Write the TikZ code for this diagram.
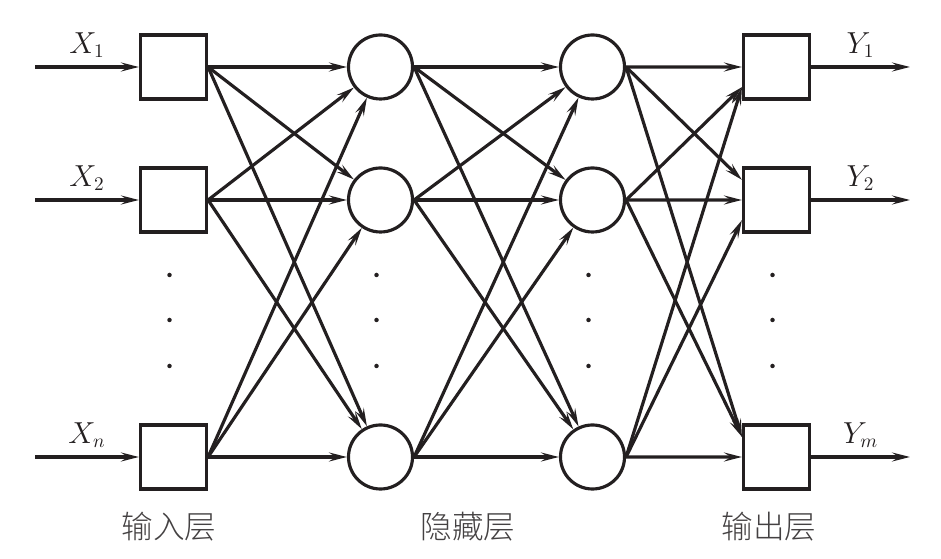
\documentclass[tikz,border=0pt]{standalone}
\usepackage{fontspec}
\newfontfamily\cjk{Noto Sans CJK SC Light}
\usetikzlibrary{arrows.meta}
\usetikzlibrary{calc}
\usetikzlibrary{positioning}
\definecolor{ink}{RGB}{35,31,32}
\tikzset{%
  a/.style = {-{Stealth[length=3.6mm,width=1.8mm,inset=1.4mm]},line width=1.8pt},
  b/.style = {rectangle,draw,line width=1.8pt,minimum width=1.32cm,
        minimum height=1.28cm,inner sep=0pt},
  c/.style = {circle,draw,line width=1.8pt,minimum size=1.28cm,inner sep=0pt},
  lab/.style = {font=\fontsize{16}{18}\selectfont},
  layer/.style = {font=\fontsize{18}{21}\selectfont\cjk,text=ink!85}
}

\begin{document}
\begin{tikzpicture}[color=ink]
  \useasboundingbox (0,0) rectangle (18.82,11.18);
  \foreach \n/\y/\s/\t in {1/9.84/1/1,2/7.18/2/2,3/2.04/n/m} {
    \node[b] (i\n) at (3.47,\y) {};
    \node[c] (h\n) at (7.61,\y) {};
    \node[c] (g\n) at (11.85,\y) {};
    \node[b] (o\n) at (15.53,\y) {};
    \coordinate (x\n) at (0.7,\y);
    \coordinate (y\n) at (18.2,\y);
    \draw[a] (x\n) -- node[above=1pt,lab] {$X_\s$} (i\n);
    \draw[a] (o\n) -- node[above=1pt,lab] {$Y_\t$} (y\n);
  }
  \foreach \i in {1,2,3}
    \foreach \j in {1,2,3} {
      \ifnum\i<\j \def\side{north west}\else
        \ifnum\i>\j \def\side{south west}\else \def\side{west}\fi\fi
      \draw[a] (i\i.east) -- (h\j);
      \draw[a] (h\i.east) -- (g\j);
      \draw[a] (g\i.east) -- ($(o\j.west)!0.6!(o\j.\side)$);
    }
  \foreach \x in {3.47,7.61,11.85,15.53}
    \foreach \y in {5.68,4.78,3.86}
      \fill (\x-0.08,\y) circle (0.045);
  \node[layer] (l1) at (3.38,0.64) {输入层};
  \node[layer] (l2) at (9.36,0.64) {隐藏层};
  \node[layer] (l3) at (15.38,0.64) {输出层};
\end{tikzpicture}
\end{document}
